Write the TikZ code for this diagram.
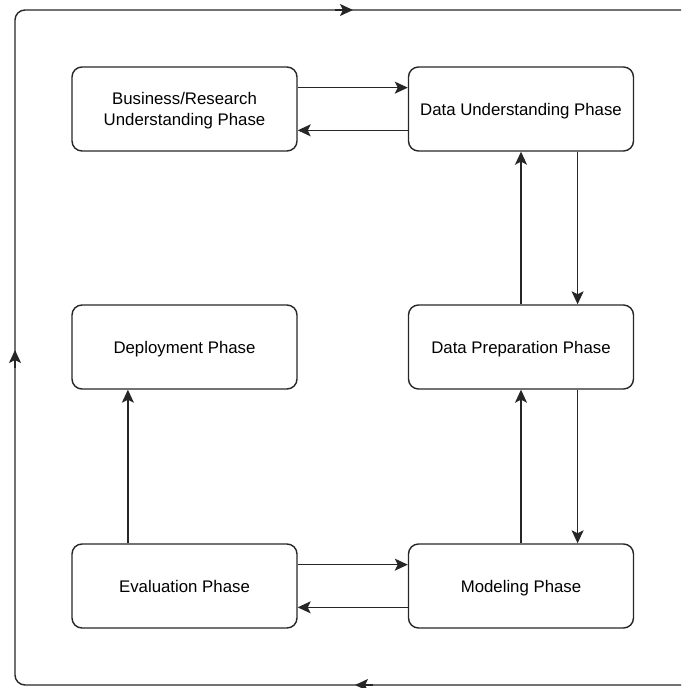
\documentclass[tikz,border=0pt]{standalone}
\usepackage{fontspec}
\setmainfont{Liberation Sans}
\usetikzlibrary{arrows.meta,calc}
\begin{document}
\begin{tikzpicture}[x=1pt,y=-1pt,
  phase/.style={draw=black!85, line width=1.4pt, rounded corners=10pt,
    minimum width=225pt, minimum height=84pt, align=center, inner sep=0pt,
    text depth=0pt, font=\fontsize{16.8}{21}\selectfont},
  arr/.style={draw=black!85, line width=1.4pt,
    -{Stealth[length=13pt,width=12pt,inset=3pt]}},
  loop/.style={draw=black!85, line width=1.4pt}]
\useasboundingbox (0,0) rectangle (681,688);
\clip (0,0) rectangle (681,688);
% phase boxes
\node[phase] (bus) at (184.5,109) {Business/Research\\Understanding Phase};
\node[phase] (du)  at (521,109) {Data Understanding Phase};
\node[phase] (dep) at (184.5,347) {Deployment Phase};
\node[phase] (dp)  at (521,347) {Data Preparation Phase};
\node[phase] (ev)  at (184.5,586) {Evaluation Phase};
\node[phase] (mod) at (521,586) {Modeling Phase};
% connectors
\draw[arr] ($(bus.north east)!0.25!(bus.south east)$) -- ($(du.north west)!0.25!(du.south west)$);
\draw[arr] ($(du.north west)!0.75!(du.south west)$) -- ($(bus.north east)!0.75!(bus.south east)$);
\draw[arr] ($(du.south west)!0.75!(du.south east)$) -- ($(dp.north west)!0.75!(dp.north east)$);
\draw[arr] (dp.north) -- (du.south);
\draw[arr] ($(dp.south west)!0.75!(dp.south east)$) -- ($(mod.north west)!0.75!(mod.north east)$);
\draw[arr] (mod.north) -- (dp.south);
\draw[arr] ($(ev.north east)!0.25!(ev.south east)$) -- ($(mod.north west)!0.25!(mod.south west)$);
\draw[arr] ($(mod.north west)!0.75!(mod.south west)$) -- ($(ev.north east)!0.75!(ev.south east)$);
\draw[arr] ($(ev.north west)!0.25!(ev.north east)$) -- ($(dep.south west)!0.25!(dep.south east)$);
% outer loop
\coordinate (otl) at (15,10);
\coordinate (otr) at (692,10);
\coordinate (obr) at (692,685);
\coordinate (obl) at (15,685);
\draw[loop, rounded corners=10pt] (obr) -- (obl) -- (otl) -- (otr) -- cycle;
\coordinate (ta) at (335,10);  \coordinate (tb) at (353,10);
\coordinate (la) at (15,368);  \coordinate (lb) at (15,350);
\coordinate (ba) at (373,685); \coordinate (bb) at (355,685);
\draw[arr] (ta) -- (tb);
\draw[arr] (la) -- (lb);
\draw[arr] (ba) -- (bb);
\end{tikzpicture}
\end{document}
